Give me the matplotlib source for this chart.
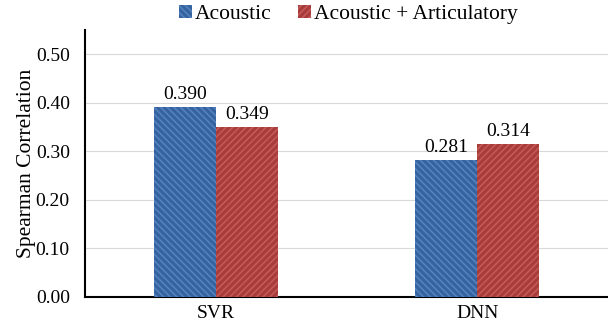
import matplotlib.pyplot as plt
import numpy as np

plt.rcParams['font.family'] = ['Liberation Serif', 'DejaVu Serif']
plt.rcParams['hatch.linewidth'] = 1.2

# Data
models = ['SVR', 'DNN']
acoustic = [0.390, 0.281]
acoustic_artic = [0.349, 0.314]
series_names = ['Acoustic', 'Acoustic + Articulatory']
yticks = [0.0, 0.1, 0.2, 0.3, 0.4, 0.5]

COLORS = {
    'blue': '#36639f',
    'blue_hatch': '#5283c0',
    'red': '#a83c3a',
    'red_hatch': '#c45a57',
}

fig = plt.figure(figsize=(6.08, 3.27), dpi=100)
ax = fig.add_axes([0.14, 0.092, 0.86, 0.817])

x = np.arange(len(models))
w = 0.237

b1 = ax.bar(x - w / 2, acoustic, w, color=COLORS['blue'], hatch='\\\\\\\\\\',
            edgecolor=COLORS['blue_hatch'], linewidth=0, label=series_names[0], zorder=3)
b2 = ax.bar(x + w / 2, acoustic_artic, w, color=COLORS['red'], hatch='/////',
            edgecolor=COLORS['red_hatch'], linewidth=0, label=series_names[1], zorder=3)

for bars in (b1, b2):
    for bar in bars:
        h = bar.get_height()
        ax.text(bar.get_x() + bar.get_width() / 2, h + 0.01, f'{h:.3f}',
                ha='center', va='bottom', fontsize=14)

ax.set_xlim(-0.5, 1.5)
ax.set_ylim(0, 0.55)
ax.set_xticks(x)
ax.set_xticklabels(models, fontsize=14)
ax.set_yticks(yticks)
ax.set_yticklabels([f'{v:.2f}' for v in yticks], fontsize=14)
ax.tick_params(length=0, pad=11)
ax.tick_params(axis='x', pad=6)
ax.set_ylabel('Spearman Correlation', fontsize=15.5, labelpad=0)

ax.grid(True, axis='y', color='#d9d9d9', linewidth=0.8, zorder=0)
for s in ['top', 'right']:
    ax.spines[s].set_visible(False)
for s in ['left', 'bottom']:
    ax.spines[s].set_linewidth(1.5)
    ax.spines[s].set_color('black')

fig.legend(handles=[b1, b2], loc='upper center', bbox_to_anchor=(0.573, 1.045),
           ncol=2, frameon=False, fontsize=15.5, handlelength=0.6, handleheight=0.6,
           handletextpad=0.15, columnspacing=1.2)

fig.savefig('out.png', dpi=100, facecolor='white')
